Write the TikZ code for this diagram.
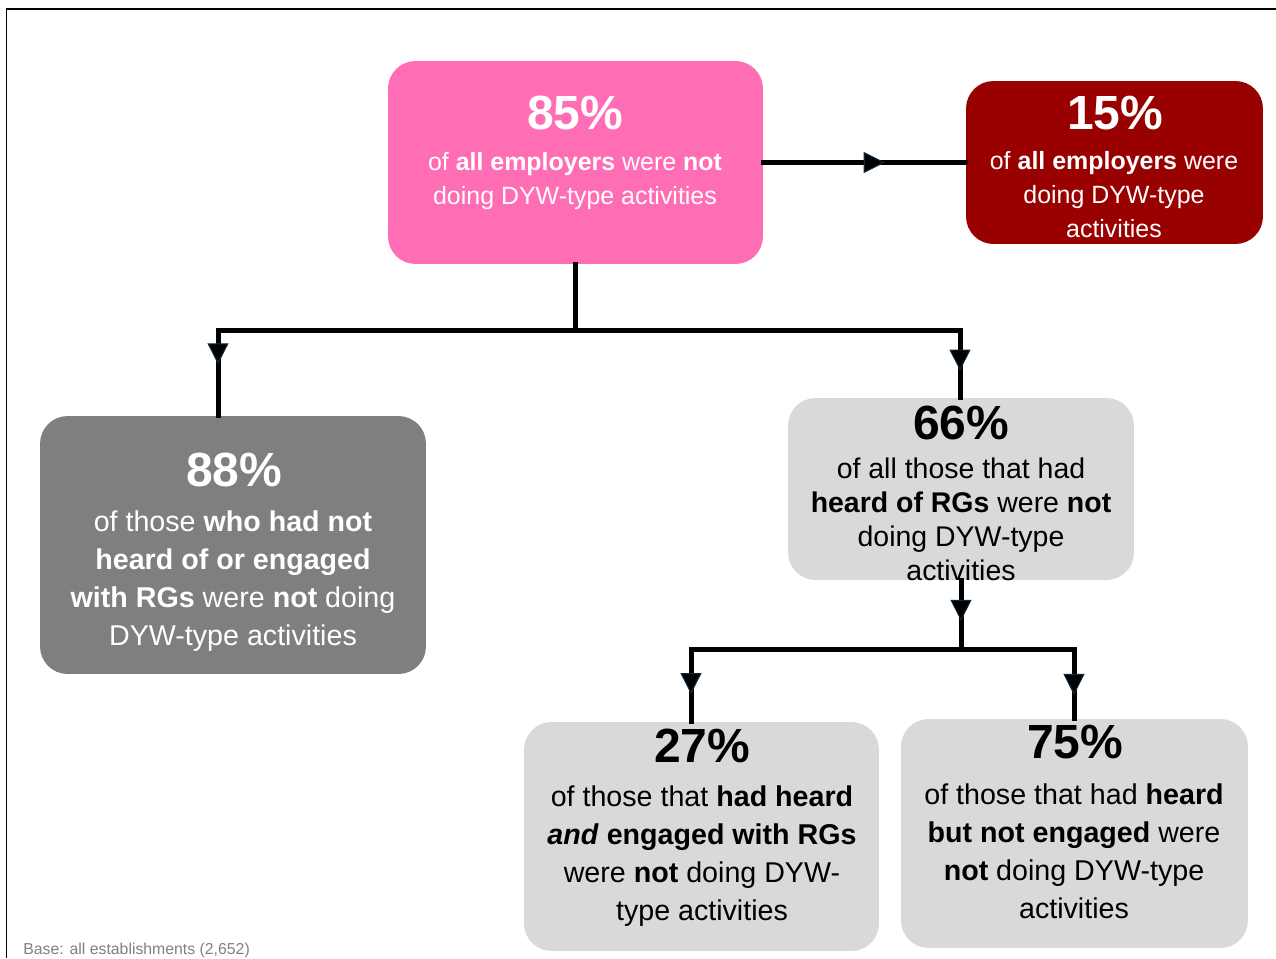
\documentclass[tikz,border=0pt]{standalone}
\usepackage{fontspec}
\setmainfont{Liberation Sans}
\usetikzlibrary{arrows.meta,decorations.markings}
\definecolor{pinkbox}{HTML}{FF6EB4}
\definecolor{redbox}{HTML}{990000}
\definecolor{greybox}{HTML}{7F7F7F}
\definecolor{lightbox}{HTML}{D9D9D9}
\definecolor{tipline}{HTML}{0E2A3C}
\definecolor{notegrey}{HTML}{808080}
\begin{document}
\begin{tikzpicture}[x=0.02cm,y=-0.02cm,
  box/.style={rounded corners=0.55cm, draw=none, inner sep=0},
  pct/.style={font=\fontsize{27.3}{30}\selectfont\bfseries, inner sep=0},
  body/.style={align=center, inner sep=0},
  bodyS/.style={body, font=\fontsize{14.2}{19.35}\selectfont},
  bodyL/.style={body, font=\fontsize{16.3}{21.6}\selectfont},
  bodyM/.style={body, font=\fontsize{16.2}{19.35}\selectfont},
  conn/.style={line width=0.1cm, black, line cap=rect},
  midarrow/.style={postaction={decorate}, decoration={markings,
     mark=at position #1 with {\arrow{Triangle[length=0.42cm,width=0.42cm,line width=0.6pt,fill=black,color=tipline]}}}}
]
\useasboundingbox (0,0) rectangle (1276,958);
% frame
\draw[line width=0.04cm] (6.5,958) -- (6.5,8.5) -- (1276,8.5);

% boxes
\node[box, fill=pinkbox, minimum width=7.5cm, minimum height=4.06cm] (p) at (575.5,162.5) {};
\node[box, fill=redbox, minimum width=5.94cm, minimum height=3.26cm] (r) at (1114.5,162.5) {};
\node[box, fill=greybox, minimum width=7.72cm, minimum height=5.16cm] (g) at (233,545) {};
\node[box, fill=lightbox, minimum width=6.92cm, minimum height=3.64cm] (q) at (961,489) {};
\node[box, fill=lightbox, minimum width=7.1cm, minimum height=4.58cm] (a) at (701.5,836.5) {};
\node[box, fill=lightbox, minimum width=6.94cm, minimum height=4.58cm] (b) at (1074.5,833.5) {};

% junctions
\coordinate (j1) at (575.5,330);
\coordinate (jl) at (218,330);
\coordinate (jr) at (960,330);
\coordinate (k1) at (961,649);
\coordinate (kl) at (691,649);
\coordinate (kr) at (1074,649);

% connectors
\draw[conn, midarrow=0.6] (p.east) -- (r.west);
\draw[conn] (p.south) -- (j1);
\draw[conn] (jl) -- (jr);
\draw[conn, midarrow=0.4] (jl) -- (jl |- g.north);
\draw[conn, midarrow=0.6] (jr) -- (jr |- q.north);
\draw[conn, midarrow=0.59] (q.south) -- (k1);
\draw[conn] (kl) -- (kr);
\draw[conn, midarrow=0.62] (kl) -- (kl |- a.north);
\draw[conn, midarrow=0.66] (kr) -- (kr |- b.north);

% texts
\node[pct, text=white] (p1) at (575,113) {85\%};
\node[bodyS, text=white] (p2) at (575,181) {of \textbf{all employers} were \textbf{not}\\doing DYW-type activities};

\node[pct, text=white] (r1) at (1115,113) {15\%};
\node[bodyS, text=white] (r2) at (1114,195) {of \textbf{all employers} were\\doing DYW-type\\activities};

\node[pct, text=white] (g1) at (234,470) {88\%};
\node[bodyL, text=white] (g2) at (233,581) {of those \textbf{who had not}\\\textbf{heard of or engaged}\\\textbf{with RGs} were \textbf{not} doing\\DYW-type activities};

\node[pct] (q1) at (961,423) {66\%};
\node[bodyM] (q2) at (961,519.5) {of all those that had\\\textbf{heard of RGs} were \textbf{not}\\doing DYW-type\\activities};

\node[pct] (a1) at (702,746) {27\%};
\node[bodyL] (a2) at (702,856) {of those that \textbf{had heard}\\\textbf{\textit{and} engaged with RGs}\\were \textbf{not} doing DYW-\\type activities};

\node[pct] (b1) at (1075,742) {75\%};
\node[bodyL] (b2) at (1074,851) {of those that had \textbf{heard}\\\textbf{but not engaged} were\\\textbf{not} doing DYW-type\\activities};

\node[anchor=base west, font=\fontsize{9}{11}\selectfont, text=notegrey, inner sep=0] (note) at (23,954) {Base: all establishments (2,652)};
\end{tikzpicture}
\end{document}
